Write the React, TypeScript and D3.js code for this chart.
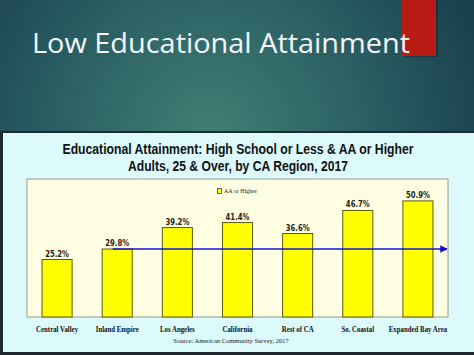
import React from 'react';
import * as d3 from 'd3';

const slideTitle = 'Low Educational Attainment';
const chartTitle1 = 'Educational Attainment:  High School or Less & AA or Higher';
const chartTitle2 = 'Adults, 25 & Over, by CA Region, 2017';
const legendLabel = 'AA or Higher';
const sourceNote = 'Source:  American Community Survey, 2017';

const categories = [
  'Central Valley',
  'Inland Empire',
  'Los Angeles',
  'California',
  'Rest of CA',
  'So. Coastal',
  'Expanded Bay Area',
];
const values = [25.2, 29.8, 39.2, 41.4, 36.6, 46.7, 50.9];
// the blue arrow sits at the Inland Empire level
const refIndex = 1;

const W = 474;
const H = 355;
const plot = { left: 27, right: 448, top: 179, bottom: 317 };

export default function App() {
  const x = d3
    .scaleBand<string>()
    .domain(categories)
    .range([plot.left, plot.right])
    .paddingInner(0.5)
    .paddingOuter(0.25);
  const y = d3.scaleLinear().domain([0, 60.5]).range([plot.bottom, plot.top]);
  const bw = x.bandwidth();
  const cx = (c: string) => (x(c) as number) + bw / 2;
  const refY = y(values[refIndex]);
  const refX0 = (x(categories[refIndex]) as number) + bw * 0.35;

  return (
    <svg
      width={W}
      height={H}
      style={{ position: 'absolute', left: 0, top: 0 }}
    >
      <defs>
        <radialGradient id="slideBg" gradientUnits="userSpaceOnUse" cx={210} cy={135} r={290}>
          <stop offset="0" stopColor="#417f74" />
          <stop offset="0.55" stopColor="#2a5e63" />
          <stop offset="1" stopColor="#1a3f4f" />
        </radialGradient>
        <marker id="arrow" viewBox="0 0 10 10" refX={9} refY={5} markerWidth={5} markerHeight={5} orient="auto">
          <path d="M0,0L10,5L0,10z" fill="#1010d0" />
        </marker>
      </defs>

      {/* slide */}
      <rect x={0} y={0} width={W} height={H} fill="url(#slideBg)" />
      <rect x={403} y={0} width={35} height={57} fill="#000" opacity={0.25} />
      <rect x={401} y={0} width={35} height={56} fill="#b81a14" />
      <text
        x={32}
        y={53}
        fill="#f4f8f8"
        fontFamily="'Open Sans', sans-serif"
        fontSize={27}
        textLength={378}
        lengthAdjust="spacingAndGlyphs"
      >
        {slideTitle}
      </text>

      {/* chart panel */}
      <rect x={0} y={131} width={W} height={224} fill="#1e2a30" />
      <rect x={3} y={133} width={W - 3} height={219} fill="#dcf9fc" />

      <g fontFamily="'Liberation Sans', Arial, sans-serif" fontWeight="bold" fill="#111" textAnchor="middle">
        <text x={238} y={154} fontSize={14} textLength={351} lengthAdjust="spacingAndGlyphs">
          {chartTitle1}
        </text>
        <text x={238} y={171} fontSize={14} textLength={220} lengthAdjust="spacingAndGlyphs">
          {chartTitle2}
        </text>
      </g>

      <rect
        x={plot.left}
        y={plot.top}
        width={plot.right - plot.left}
        height={plot.bottom - plot.top}
        fill="#fefee2"
        stroke="#9a9a90"
        strokeWidth={1}
      />

      {/* legend */}
      <rect x={217.5} y={188.5} width={4} height={5} fill="#ffff00" stroke="#444" strokeWidth={0.8} />
      <text x={224} y={193} fontSize={6} fontFamily="'Liberation Serif', serif" fill="#222">
        {legendLabel}
      </text>

      {/* bars */}
      {categories.map((c, i) => (
        <rect
          key={c}
          x={x(c)}
          y={y(values[i])}
          width={bw}
          height={plot.bottom - y(values[i])}
          fill="#ffff00"
          stroke="#5a5a10"
          strokeWidth={1}
        />
      ))}

      {/* reference line */}
      <line
        x1={refX0}
        x2={plot.right - 1}
        y1={refY}
        y2={refY}
        stroke="#1414d2"
        strokeWidth={1.5}
        markerEnd="url(#arrow)"
      />

      {/* value labels */}
      <g fontFamily="'Liberation Sans Narrow', 'DejaVu Sans Condensed', sans-serif" fontWeight="bold" fontSize={9} fill="#222" textAnchor="middle">
        {categories.map((c, i) => (
          <text key={c} transform={`translate(${cx(c)},${y(values[i]) - 3}) scale(0.85,1)`}>
            {values[i].toFixed(1) + '%'}
          </text>
        ))}
      </g>

      {/* category axis */}
      <g fontFamily="'Liberation Serif', serif" fontWeight="bold" fontSize={9} fill="#111" textAnchor="middle">
        {categories.map((c) => (
          <text key={c} transform={`translate(${cx(c)},332) scale(0.76,1)`}>
            {c}
          </text>
        ))}
      </g>

      <text x={231} y={343} fontSize={6.5} fontFamily="'Liberation Serif', serif" fill="#222" textAnchor="middle">
        {sourceNote}
      </text>
    </svg>
  );
}
